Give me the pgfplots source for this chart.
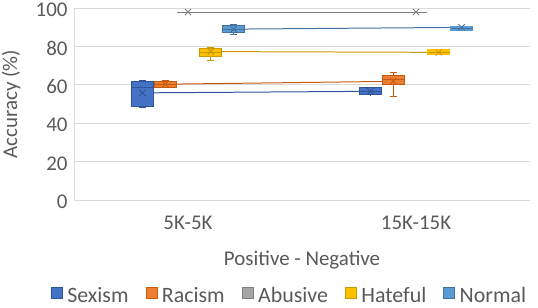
\documentclass[border=0pt]{standalone}
\usepackage{fontspec}
\setmainfont{Carlito}
\usepackage{pgfplots}
\pgfplotsset{compat=1.18}
\definecolor{cSex}{HTML}{4472C4}\definecolor{cSexD}{HTML}{2F5597}
\definecolor{cRac}{HTML}{ED7D31}\definecolor{cRacD}{HTML}{C55A11}
\definecolor{cAbu}{HTML}{A5A5A5}\definecolor{cAbuD}{HTML}{7F7F7F}
\definecolor{cHat}{HTML}{FFC000}\definecolor{cHatD}{HTML}{C99A00}
\definecolor{cNor}{HTML}{5B9BD5}\definecolor{cNorD}{HTML}{41719C}
\definecolor{txt}{HTML}{595959}
\begin{document}
\begin{tikzpicture}
\useasboundingbox (0bp,0bp) rectangle (538bp,308bp);
\begin{axis}[at={(74bp,108bp)}, anchor=south west, scale only axis,
 width=456bp, height=192bp, xmin=0.5, xmax=2.5, ymin=0, ymax=100,
 ytick={0,20,...,100}, xtick={1,2}, xticklabels={5K-5K,15K-15K},
 ymajorgrids, grid style={draw=black!15, line width=0.75pt},
 axis x line*=bottom, axis y line*=left, axis line style={draw=black!15, line width=0.75pt},
 major tick length=0pt,
 unbounded coords=jump,
 /pgf/number format/assume math mode=true,
 ticklabel style={font=\fontsize{21}{25}\selectfont, text=txt},
 xticklabel style={anchor=base, yshift=-29bp},
 yticklabel style={xshift=-3bp, yshift=-2bp},
 xlabel={Positive - Negative}, ylabel={Accuracy (\%)},
 label style={font=\fontsize{21}{25}\selectfont, text=txt},
 xlabel style={at={(axis description cs:0.5,0)}, anchor=base, yshift=-65bp},
 ylabel style={at={(axis description cs:-0.138,0.5)}, anchor=center},
 legend image code/.code={\draw[#1] (0bp,-2.5bp) rectangle (11bp,8.5bp);},
 legend style={at={(axis description cs:0.4726,-0.498)}, anchor=center, draw=none, fill=none,
   legend columns=-1, font=\fontsize{22}{24}\selectfont, text=txt,
   inner sep=0pt,
   /tikz/every odd column/.append style={column sep=3bp},
   /tikz/every even column/.append style={column sep=15bp}},
]
% mean lines
\addplot[forget plot, cSexD, line width=1pt] coordinates {(0.8,55.8) (1.8,56.6)};
\addplot[forget plot, cRacD, line width=1pt] coordinates {(0.9,60.3) (1.9,61.8)};
\addplot[forget plot, cAbuD, line width=1pt] coordinates {(0.952,97.9) (2.048,97.9)};
\addplot[forget plot, cHatD, line width=1pt] coordinates {(1.1,77.3) (2.1,76.9)};
\addplot[forget plot, cNorD, line width=1pt] coordinates {(1.2,89.0) (2.2,89.9)};
% ---------- 5K-5K ----------
% Sexism: 48.0 48.9 58.4 61.7 62.2 @0.8
\addplot[forget plot, draw=cSexD, line width=0.8pt] coordinates {(0.8,48.9) (0.8,48.0) (nan,nan) (0.785,48.0) (0.815,48.0) (nan,nan) (0.8,61.7) (0.8,62.2) (nan,nan) (0.785,62.2) (0.815,62.2)};
\addplot[forget plot, fill=cSex, draw=cSexD, line width=0.8pt] coordinates {(0.752,48.9) (0.848,48.9) (0.848,61.7) (0.752,61.7)} --cycle;
\addplot[forget plot, draw=cSexD, line width=0.8pt] coordinates {(0.752,58.4) (0.848,58.4)};
% Racism: 58.4 58.6 60.3 61.7 62.4 @0.9
\addplot[forget plot, draw=cRacD, line width=0.8pt] coordinates {(0.9,58.6) (0.9,58.4) (nan,nan) (0.885,58.4) (0.915,58.4) (nan,nan) (0.9,61.7) (0.9,62.4) (nan,nan) (0.885,62.4) (0.915,62.4)};
\addplot[forget plot, fill=cRac, draw=cRacD, line width=0.8pt] coordinates {(0.852,58.6) (0.948,58.6) (0.948,61.7) (0.852,61.7)} --cycle;
\addplot[forget plot, draw=cRacD, line width=0.8pt] coordinates {(0.852,60.3) (0.948,60.3)};
% Hateful: 72.8 74.8 77.1 79.2 79.4 @1.1
\addplot[forget plot, draw=cHatD, line width=0.8pt] coordinates {(1.1,74.8) (1.1,72.8) (nan,nan) (1.085,72.8) (1.115,72.8) (nan,nan) (1.1,79.2) (1.1,79.4) (nan,nan) (1.085,79.4) (1.115,79.4)};
\addplot[forget plot, fill=cHat, draw=cHatD, line width=0.8pt] coordinates {(1.052,74.8) (1.148,74.8) (1.148,79.2) (1.052,79.2)} --cycle;
\addplot[forget plot, draw=cHatD, line width=0.8pt] coordinates {(1.052,77.1) (1.148,77.1)};
% Normal: 86.5 87.3 89.1 90.8 91.3 @1.2
\addplot[forget plot, draw=cNorD, line width=0.8pt] coordinates {(1.2,87.3) (1.2,86.5) (nan,nan) (1.185,86.5) (1.215,86.5) (nan,nan) (1.2,90.8) (1.2,91.3) (nan,nan) (1.185,91.3) (1.215,91.3)};
\addplot[forget plot, fill=cNor, draw=cNorD, line width=0.8pt] coordinates {(1.152,87.3) (1.248,87.3) (1.248,90.8) (1.152,90.8)} --cycle;
\addplot[forget plot, draw=cNorD, line width=0.8pt] coordinates {(1.152,89.1) (1.248,89.1)};
% ---------- 15K-15K ----------
% Sexism: 54.6 54.9 56.6 58.4 58.6 @1.8
\addplot[forget plot, draw=cSexD, line width=0.8pt] coordinates {(1.8,54.9) (1.8,54.6) (nan,nan) (1.8,58.4) (1.8,58.6)};
\addplot[forget plot, fill=cSex, draw=cSexD, line width=0.8pt] coordinates {(1.752,54.9) (1.848,54.9) (1.848,58.4) (1.752,58.4)} --cycle;
\addplot[forget plot, draw=cSexD, line width=0.8pt] coordinates {(1.752,56.6) (1.848,56.6)};
% Racism: 53.7 60.0 62.7 64.8 66.2 @1.9
\addplot[forget plot, draw=cRacD, line width=0.8pt] coordinates {(1.9,60.0) (1.9,53.7) (nan,nan) (1.885,53.7) (1.915,53.7) (nan,nan) (1.9,64.8) (1.9,66.2) (nan,nan) (1.885,66.2) (1.915,66.2)};
\addplot[forget plot, fill=cRac, draw=cRacD, line width=0.8pt] coordinates {(1.852,60.0) (1.948,60.0) (1.948,64.8) (1.852,64.8)} --cycle;
\addplot[forget plot, draw=cRacD, line width=0.8pt] coordinates {(1.852,62.7) (1.948,62.7)};
% Hateful: 75.6 77.0 78.3 @2.1
\addplot[forget plot, fill=cHat, draw=cHat, line width=0.8pt] coordinates {(2.052,75.6) (2.148,75.6) (2.148,78.3) (2.052,78.3)} --cycle;
\addplot[forget plot, draw=cHatD, line width=0.6pt] coordinates {(2.052,77.0) (2.148,77.0)};
% Normal: 88.4 89.6 90.4 @2.2
\addplot[forget plot, fill=cNor, draw=cNor, line width=0.8pt] coordinates {(2.152,88.4) (2.248,88.4) (2.248,90.4) (2.152,90.4)} --cycle;
\addplot[forget plot, draw=cNorD, line width=0.6pt] coordinates {(2.152,89.6) (2.248,89.6)};
% mean markers
\addplot[forget plot, only marks, mark=x, mark size=4.5pt, cSexD, line width=0.9pt] coordinates {(0.8,55.8) (1.8,56.6)};
\addplot[forget plot, only marks, mark=x, mark size=4.5pt, cRacD, line width=0.9pt] coordinates {(0.9,60.3) (1.9,61.8)};
\addplot[forget plot, only marks, mark=x, mark size=4.5pt, cAbuD, line width=0.9pt] coordinates {(1,97.9) (2,97.9)};
\addplot[forget plot, only marks, mark=x, mark size=4.5pt, cHatD, line width=0.9pt] coordinates {(1.1,77.3) (2.1,76.9)};
\addplot[forget plot, only marks, mark=x, mark size=4.5pt, cNorD, line width=0.9pt] coordinates {(1.2,89.0) (2.2,89.9)};
% legend
\addlegendimage{fill=cSex, draw=cSexD}\addlegendentry{Sexism}
\addlegendimage{fill=cRac, draw=cRacD}\addlegendentry{Racism}
\addlegendimage{fill=cAbu, draw=cAbuD}\addlegendentry{Abusive}
\addlegendimage{fill=cHat, draw=cHatD}\addlegendentry{Hateful}
\addlegendimage{fill=cNor, draw=cNorD}\addlegendentry{Normal}
\end{axis}
\end{tikzpicture}
\end{document}
